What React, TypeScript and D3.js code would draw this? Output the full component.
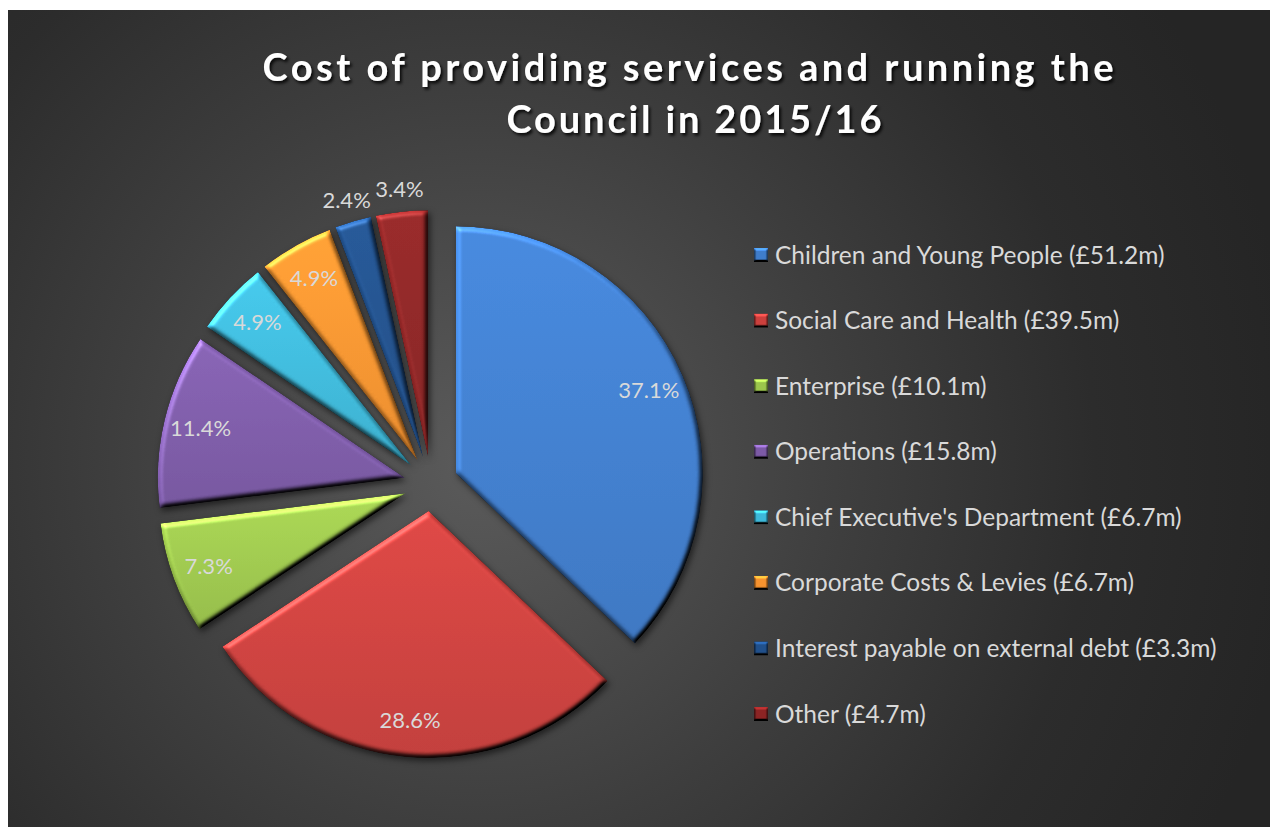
import React from 'react';
import * as d3 from 'd3';

// data
const categories = [
  'Children and Young People',
  'Social Care and Health',
  'Enterprise',
  'Operations',
  "Chief Executive's Department",
  'Corporate Costs & Levies',
  'Interest payable on external debt',
  'Other',
];
const values = [51.2, 39.5, 10.1, 15.8, 6.7, 6.7, 3.3, 4.7];
const colors = ['#3f7dcc', '#cc403d', '#9cc64c', '#7c5aa6', '#3db8d9', '#f7932f', '#21508b', '#8c2424'];
const titleLines = ['Cost of providing services and running the', 'Council in 2015/16'];

const W = 1270;
const H = 827;
const cx = 431;
const cy = 484;
const R = 247;
const explode = 27;

export default function App() {
  const total = d3.sum(values);
  const pie = d3.pie<number>().sort(null).startAngle(0).endAngle(2 * Math.PI);
  const arcs = pie(values);
  const arc = d3.arc<d3.PieArcDatum<number>>().innerRadius(0).outerRadius(R);
  const legendY = d3.scalePoint<string>().domain(categories).range([255, 714]);
  const pct = d3.format('.1f');

  const dir = (a: number) => [Math.sin(a), -Math.cos(a)];

  // filter regions in user space, wide enough for translated slices
  const fr = { filterUnits: 'userSpaceOnUse', x: -W, y: -H, width: 3 * W, height: 3 * H } as const;

  return (
    <svg width={W} height={H} style={{ position: 'absolute', left: 0, top: 0 }}>
      <defs>
        <radialGradient id="bg" gradientUnits="userSpaceOnUse" cx={480} cy={460} r={820}>
          <stop offset="0" stopColor="#5b5b5b" />
          <stop offset="0.45" stopColor="#3e3e3e" />
          <stop offset="0.75" stopColor="#2c2c2c" />
          <stop offset="1" stopColor="#252525" />
        </radialGradient>
        {colors.map((c, i) => (
          <linearGradient key={i} id={`g${i}`} x1="0" y1="0" x2="0" y2="1">
            <stop offset="0" stopColor={d3.color(c)!.brighter(0.2).formatHex()} />
            <stop offset="1" stopColor={d3.color(c)!.darker(0.2).formatHex()} />
          </linearGradient>
        ))}
        <filter id="bevel" {...fr} colorInterpolationFilters="sRGB">
          <feGaussianBlur in="SourceAlpha" stdDeviation="2.8" result="b" />
          <feSpecularLighting in="b" surfaceScale="3.5" specularConstant="0.6" specularExponent="20"
            lightingColor="#ffffff" result="s">
            <feDistantLight azimuth="235" elevation="38" />
          </feSpecularLighting>
          <feComposite in="s" in2="SourceAlpha" operator="in" result="s2" />
          <feDiffuseLighting in="b" surfaceScale="3.5" diffuseConstant="1" lightingColor="#ffffff" result="d">
            <feDistantLight azimuth="235" elevation="45" />
          </feDiffuseLighting>
          <feComposite in="SourceGraphic" in2="d" operator="arithmetic" k1="1.414" k2="0" k3="0" k4="0" result="lit" />
          <feComposite in="s2" in2="lit" operator="arithmetic" k1="0" k2="0.25" k3="1" k4="0" result="out" />
          <feComposite in="out" in2="SourceAlpha" operator="in" result="fin" />
          <feGaussianBlur in="SourceAlpha" stdDeviation="3" result="sb" />
          <feOffset in="sb" dx="2" dy="3" result="so" />
          <feFlood floodColor="#000" floodOpacity="0.55" />
          <feComposite in2="so" operator="in" result="shadow" />
          <feMerge>
            <feMergeNode in="shadow" />
            <feMergeNode in="fin" />
          </feMerge>
        </filter>
        <filter id="bevelSm" {...fr} colorInterpolationFilters="sRGB">
          <feGaussianBlur in="SourceAlpha" stdDeviation="1.2" result="b" />
          <feDiffuseLighting in="b" surfaceScale="3" diffuseConstant="1" lightingColor="#ffffff" result="d">
            <feDistantLight azimuth="270" elevation="45" />
          </feDiffuseLighting>
          <feComposite in="SourceGraphic" in2="d" operator="arithmetic" k1="1.414" k2="0" k3="0" k4="0" result="lit" />
          <feComposite in="lit" in2="SourceAlpha" operator="in" />
        </filter>
        <filter id="tshadow" {...fr}>
          <feDropShadow dx="2" dy="2.5" stdDeviation="1.8" floodColor="#000" floodOpacity="0.85" />
        </filter>
      </defs>

      <rect x={8} y={10} width={W - 8} height={H - 10} fill="url(#bg)" />

      <g filter="url(#tshadow)" fill="#ffffff" fontFamily="Lato, 'Open Sans', sans-serif" fontWeight={700}
        fontSize={38} textAnchor="middle">
        <text x={688} y={81} textLength={851} lengthAdjust="spacing">{titleLines[0]}</text>
        <text x={694} y={133} textLength={375} lengthAdjust="spacing">{titleLines[1]}</text>
      </g>

      <g>
        {arcs.map((a, i) => {
          const mid = (a.startAngle + a.endAngle) / 2;
          const [ux, uy] = dir(mid);
          return (
            <path
              key={i}
              d={arc(a) || ''}
              transform={`translate(${cx + ux * explode},${cy + uy * explode})`}
              fill={`url(#g${i})`}
              filter="url(#bevel)"
            />
          );
        })}
      </g>

      <g fill="#d9d9d9" fontFamily="Lato, 'Open Sans', sans-serif" fontSize={22} textAnchor="middle">
        {arcs.map((a, i) => {
          const mid = (a.startAngle + a.endAngle) / 2;
          const [ux, uy] = dir(mid);
          const share = (values[i] / total) * 100;
          // small slices get their label outside the rim
          const r = share < 4 ? R + 22 : 210;
          const x = cx + ux * (explode + r);
          const y = cy + uy * (explode + r);
          return (
            <text key={i} x={x} y={y} dy="0.35em">{pct(share)}%</text>
          );
        })}
      </g>

      <g fontFamily="Lato, 'Open Sans', sans-serif" fontSize={24.5} fill="#d9d9d9">
        {categories.map((c, i) => {
          const y = legendY(c)!;
          return (
            <g key={c}>
              <rect x={754} y={y - 7} width={14} height={14} fill={colors[i]} filter="url(#bevelSm)" />
              <text x={775} y={y} dy="0.35em">{`${c} (£${values[i].toFixed(1)}m)`}</text>
            </g>
          );
        })}
      </g>
    </svg>
  );
}
